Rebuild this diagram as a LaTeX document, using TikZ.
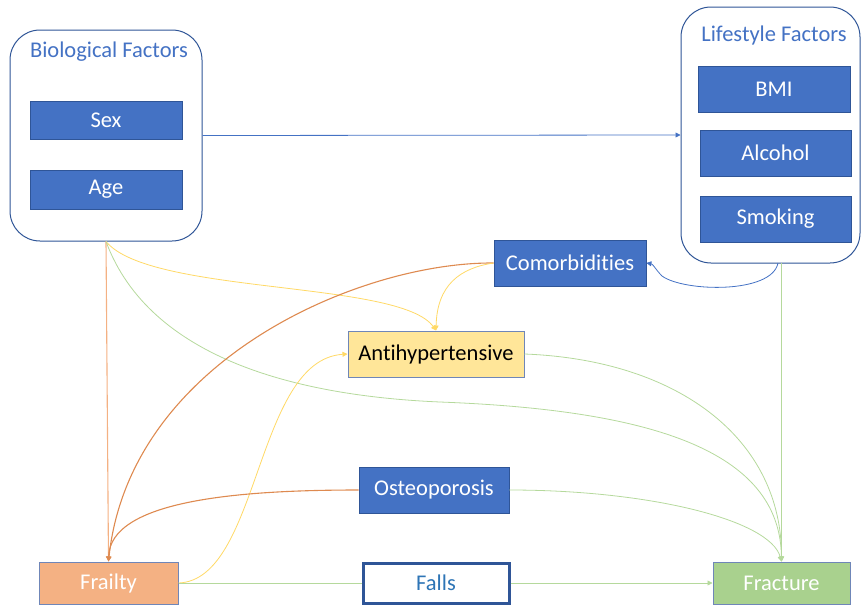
\documentclass[tikz,border=0pt]{standalone}
\usepackage{fontspec}
\setmainfont{Carlito}[Ligatures={NoCommon}]
\usetikzlibrary{arrows.meta}
\definecolor{pblue}{HTML}{4472C4}
\definecolor{pborder}{HTML}{2F5597}
\definecolor{ptitle}{HTML}{4472C4}
\definecolor{porange}{HTML}{F4B183}
\definecolor{porangeline}{HTML}{DE8A50}
\definecolor{pyellow}{HTML}{FFE699}
\definecolor{pyellowline}{HTML}{FFD966}
\definecolor{pgreen}{HTML}{A9D18E}
\definecolor{pgreenline}{HTML}{B5D99C}
\definecolor{pfalls}{HTML}{2E75B6}
\definecolor{pframe}{HTML}{6F86B8}
\tikzset{
  txt/.style={font=\fontsize{22.5}{26}\selectfont},
  group/.style={draw=pborder, line width=1pt, rounded corners=30pt, fill=white},
  grouptitle/.style={txt, text=ptitle},
  bluebox/.style={txt, draw=pborder, line width=0.8pt, fill=pblue, text=white, inner sep=0pt},
  antibox/.style={txt, draw=pframe, line width=1pt, fill=pyellow, text=black, inner sep=0pt},
  frailbox/.style={txt, draw=pframe, line width=1pt, fill=porange, text=white, inner sep=0pt},
  fracbox/.style={txt, draw=pframe, line width=1pt, fill=pgreen, text=white, inner sep=0pt},
  fallsbox/.style={txt, draw=pborder, line width=3pt, fill=white, text=pfalls, inner sep=0pt},
  conn/.style={line width=0.8pt, -{Triangle[length=5pt,width=5pt]}},
  bconn/.style={conn, draw=pblue},
  oconn/.style={conn, draw=porangeline, line width=1.1pt},
  yconn/.style={conn, draw=pyellowline},
  gconn/.style={conn, draw=pgreenline},
}
\begin{document}
\begin{tikzpicture}[x=1pt,y=-1pt]
\useasboundingbox (0,0) rectangle (864,605);
% groups
\node[group, minimum width=192pt, minimum height=211pt] (bio) at (106,135.5) {};
\node[grouptitle] (biot) at (109,52) {Biological Factors};
\node[bluebox, minimum width=152pt, minimum height=38pt] (sex) at (106,120) {Sex};
\node[bluebox, minimum width=152pt, minimum height=39pt] (age) at (106,189.5) {Age};

\node[group, minimum width=179pt, minimum height=256pt] (life) at (770.5,135) {};
\node[grouptitle] (lifet) at (774,36) {Lifestyle Factors};
\node[bluebox, minimum width=152pt, minimum height=46pt] (bmi) at (774,89) {BMI};
\node[bluebox, minimum width=151pt, minimum height=46pt] (alc) at (775.5,153) {Alcohol};
\node[bluebox, minimum width=151pt, minimum height=46pt] (smk) at (775.5,219) {Smoking};

% other nodes
\node[bluebox, minimum width=152pt, minimum height=46pt] (comor) at (570,263) {Comorbidities};
\node[antibox, minimum width=176pt, minimum height=46pt] (anti) at (436,354) {Antihypertensive};
\node[bluebox, minimum width=150pt, minimum height=46pt] (osteo) at (434,490) {Osteoporosis};
\node[frailbox, minimum width=139pt, minimum height=42pt] (frail) at (108.5,583) {Frailty};
\node[fallsbox, minimum width=146pt, minimum height=40pt] (falls) at (436,583) {Falls};
\node[fracbox, minimum width=137pt, minimum height=42pt] (frac) at (781.5,583) {Fracture};

\coordinate (lifebot) at (778,263);
\coordinate (mid) at (440,402);
\coordinate (bend) at (662,276);

% connectors
\draw[bconn] (bio.east) -- (life.west);
\draw[bconn] (lifebot) .. controls (772,294) and (684,292) .. (bend) .. controls (656,270) and (653,264) .. (comor.east);
\draw[oconn, draw=porange] (bio.south) -- (frail.north);
\draw[yconn] (bio.south) .. controls (150,295) and (400,280) .. (anti.north);
\draw[gconn, -] (bio.south) .. controls (150,360) and (300,396) .. (mid);
\draw[gconn] (mid) .. controls (650,410) and (780,450) .. (frac.north);
\draw[oconn] (comor.west) .. controls (360,262) and (130,360) .. (frail.north);
\draw[yconn] (comor.west) .. controls (460,268) and (437,285) .. (anti.north);
\draw[yconn] (frail.east) .. controls (260,580) and (255,360) .. (anti.west);
\draw[gconn] (anti.east) .. controls (680,360) and (782,440) .. (frac.north);
\draw[oconn] (osteo.west) .. controls (240,490) and (110,500) .. (frail.north);
\draw[gconn] (osteo.east) .. controls (650,490) and (770,520) .. (frac.north);
\draw[gconn] (frac.north |- lifebot) -- (frac.north);
\draw[gconn, -] (frail.east) -- (falls.west);
\draw[gconn] (falls.east) -- (frac.west);
\end{tikzpicture}
\end{document}
